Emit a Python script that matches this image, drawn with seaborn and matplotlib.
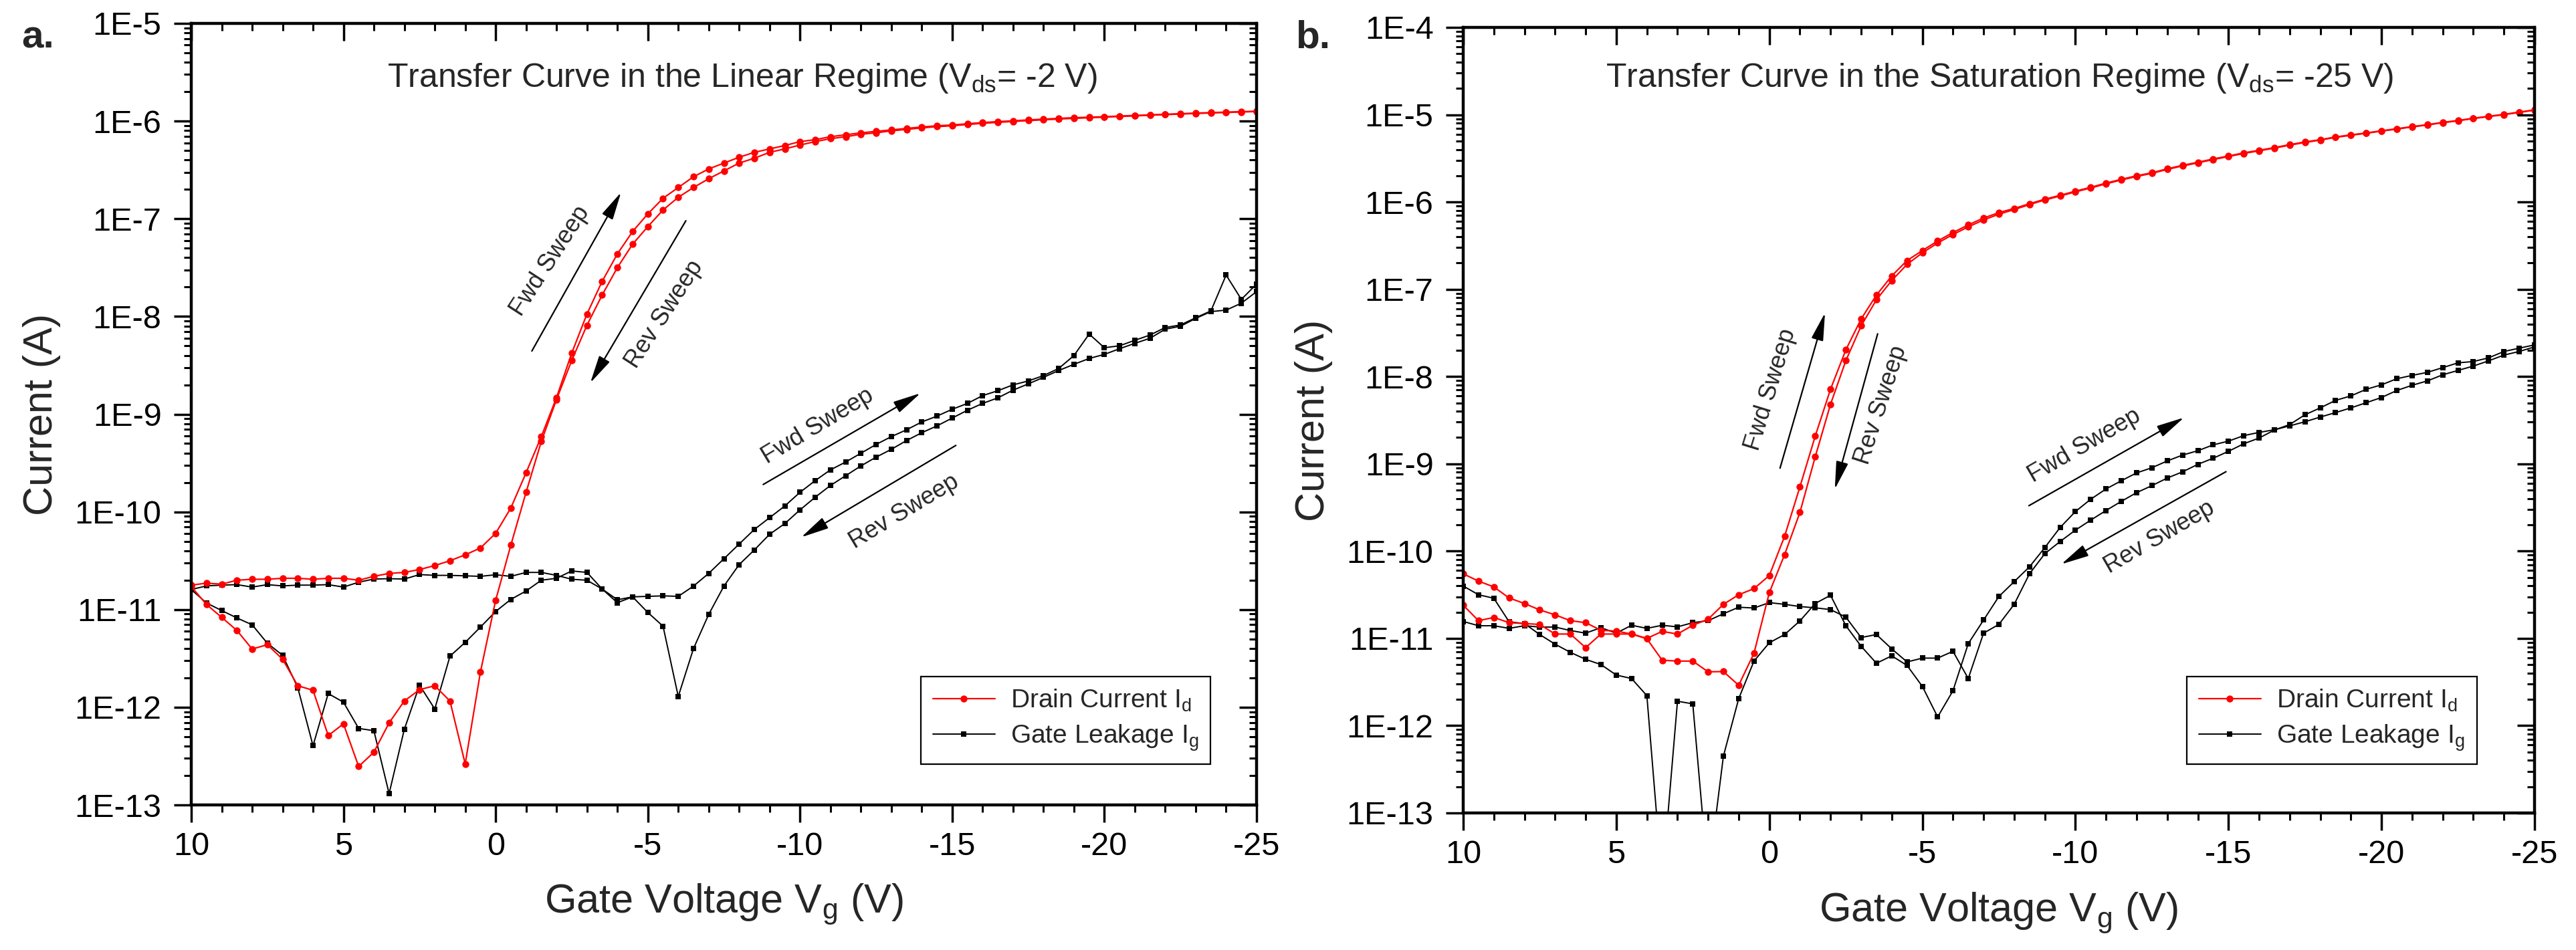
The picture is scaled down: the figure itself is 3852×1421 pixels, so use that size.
import numpy as np
import pandas as pd
import matplotlib
matplotlib.use("Agg")
import matplotlib.pyplot as plt
from matplotlib.ticker import LogLocator, MultipleLocator, FuncFormatter, NullFormatter
from matplotlib.lines import Line2D
import seaborn as sns

# gate voltage sweep points (V), same grid for every curve
vg = [10.0, 9.5, 9.0, 8.5, 8.0, 7.5, 7.0, 6.5, 6.0, 5.5,
      5.0, 4.5, 4.0, 3.5, 3.0, 2.5, 2.0, 1.5, 1.0, 0.5,
      0.0, -0.5, -1.0, -1.5, -2.0, -2.5, -3.0, -3.5, -4.0, -4.5,
      -5.0, -5.5, -6.0, -6.5, -7.0, -7.5, -8.0, -8.5, -9.0, -9.5,
      -10.0, -10.5, -11.0, -11.5, -12.0, -12.5, -13.0, -13.5, -14.0, -14.5,
      -15.0, -15.5, -16.0, -16.5, -17.0, -17.5, -18.0, -18.5, -19.0, -19.5,
      -20.0, -20.5, -21.0, -21.5, -22.0, -22.5, -23.0, -23.5, -24.0, -24.5,
      -25.0]

# log10 of current (A)
# panel a: linear regime, Vds = -2 V
log_id_fwd_a = [-10.75, -10.73, -10.74, -10.70, -10.69, -10.69, -10.68, -10.68, -10.69, -10.68,
                -10.68, -10.70, -10.66, -10.63, -10.62, -10.59, -10.55, -10.50, -10.44, -10.37,
                -10.22, -9.96, -9.60, -9.23, -8.83, -8.375, -7.975, -7.64, -7.36, -7.13,
                -6.95, -6.79, -6.68, -6.57, -6.49, -6.43, -6.37, -6.32, -6.285, -6.25,
                -6.21, -6.19, -6.16, -6.14, -6.12, -6.105, -6.09, -6.075, -6.06, -6.048,
                -6.04, -6.027, -6.015, -6.005, -5.997, -5.988, -5.98, -5.972, -5.965, -5.96,
                -5.955, -5.948, -5.942, -5.936, -5.93, -5.924, -5.918, -5.913, -5.908, -5.903,
                -5.899]
log_id_rev_a = [-10.765, -10.948, -11.08, -11.214, -11.404, -11.36, -11.508, -11.78, -11.826, -12.29,
                -12.17, -12.606, -12.46, -12.16, -11.936, -11.82, -11.78, -11.936, -12.58, -11.64,
                -10.906, -10.34, -9.80, -9.28, -8.85, -8.45, -8.09, -7.78, -7.50, -7.26,
                -7.08, -6.91, -6.78, -6.68, -6.59, -6.51, -6.43, -6.38, -6.32, -6.285,
                -6.245, -6.21, -6.18, -6.16, -6.135, -6.12, -6.10, -6.085, -6.07, -6.057,
                -6.048, -6.035, -6.023, -6.013, -6.004, -5.995, -5.987, -5.979, -5.972, -5.966,
                -5.96, -5.953, -5.947, -5.94, -5.934, -5.928, -5.922, -5.917, -5.912, -5.907,
                -5.902]
log_ig_fwd_a = [-10.795, -10.758, -10.75, -10.745, -10.77, -10.745, -10.758, -10.75, -10.75, -10.745,
                -10.77, -10.72, -10.688, -10.684, -10.688, -10.642, -10.65, -10.65, -10.655, -10.66,
                -10.644, -10.66, -10.62, -10.62, -10.65, -10.69, -10.70, -10.79, -10.93, -10.87,
                -10.865, -10.86, -10.865, -10.76, -10.63, -10.48, -10.33, -10.18, -10.06, -9.94,
                -9.80, -9.68, -9.57, -9.49, -9.40, -9.31, -9.23, -9.16, -9.08, -9.02,
                -8.95, -8.89, -8.81, -8.76, -8.70, -8.66, -8.605, -8.532, -8.40, -8.18,
                -8.32, -8.30, -8.244, -8.19, -8.113, -8.087, -8.013, -7.943, -7.576, -7.825,
                -7.668]
log_ig_rev_a = [-10.795, -10.933, -11.01, -11.086, -11.156, -11.345, -11.468, -11.80, -12.394, -11.86,
                -11.948, -12.217, -12.24, -12.884, -12.226, -11.774, -12.018, -11.477, -11.336, -11.18,
                -11.02, -10.896, -10.81, -10.70, -10.68, -10.605, -10.62, -10.79, -10.90, -10.87,
                -11.03, -11.17, -11.89, -11.40, -11.05, -10.76, -10.54, -10.39, -10.23, -10.12,
                -9.98, -9.85, -9.73, -9.63, -9.53, -9.44, -9.36, -9.27, -9.19, -9.12,
                -9.04, -8.96, -8.89, -8.833, -8.754, -8.69, -8.623, -8.553, -8.49, -8.43,
                -8.388, -8.33, -8.275, -8.223, -8.13, -8.10, -8.02, -7.95, -7.935, -7.864,
                -7.746]

# panel b: saturation regime, Vds = -25 V
log_id_fwd_b = [-10.62, -10.797, -10.76, -10.82, -10.83, -10.84, -10.95, -10.95, -11.106, -10.95,
                -10.95, -10.95, -11.0, -10.92, -10.95, -10.85, -10.78, -10.61, -10.50, -10.43,
                -10.28, -9.83, -9.264, -8.683, -8.145, -7.695, -7.34, -7.067, -6.847, -6.671,
                -6.557, -6.447, -6.35, -6.263, -6.184, -6.122, -6.074, -6.02, -5.968, -5.924,
                -5.876, -5.832, -5.784, -5.74, -5.70, -5.665, -5.62, -5.58, -5.545, -5.507,
                -5.473, -5.437, -5.408, -5.377, -5.343, -5.312, -5.286, -5.255, -5.231, -5.209,
                -5.184, -5.161, -5.136, -5.114, -5.088, -5.066, -5.04, -5.018, -4.996, -4.97,
                -4.945]
log_id_rev_b = [-10.26, -10.344, -10.41, -10.537, -10.60, -10.674, -10.73, -10.797, -10.82, -10.907,
                -10.916, -10.95, -11.004, -11.25, -11.26, -11.26, -11.383, -11.38, -11.537, -11.17,
                -10.476, -10.04, -9.557, -8.92, -8.318, -7.818, -7.42, -7.12, -6.90, -6.715,
                -6.583, -6.47, -6.373, -6.285, -6.206, -6.14, -6.087, -6.03, -5.977, -5.932,
                -5.884, -5.84, -5.792, -5.748, -5.708, -5.672, -5.627, -5.587, -5.552, -5.514,
                -5.48, -5.444, -5.414, -5.383, -5.349, -5.318, -5.291, -5.26, -5.236, -5.213,
                -5.188, -5.165, -5.14, -5.118, -5.092, -5.07, -5.044, -5.022, -5.0, -4.974,
                -4.948]
log_ig_fwd_b = [-10.40, -10.50, -10.54, -10.81, -10.83, -10.956, -11.066, -11.16, -11.24, -11.30,
                -11.42, -11.46, -11.656, -13.8, -11.72, -11.75, -13.75, -12.35, -11.69, -11.26,
                -11.05, -10.956, -10.80, -10.60, -10.506, -10.854, -11.09, -11.285, -11.2, -11.31,
                -11.55, -11.90, -11.60, -11.06, -10.79, -10.52, -10.35, -10.18, -9.96, -9.73,
                -9.547, -9.406, -9.288, -9.194, -9.104, -9.045, -8.967, -8.90, -8.85, -8.783,
                -8.74, -8.677, -8.64, -8.61, -8.565, -8.518, -8.464, -8.413, -8.359, -8.30,
                -8.24, -8.16, -8.10, -8.05, -7.98, -7.93, -7.88, -7.82, -7.754, -7.713,
                -7.66]
log_ig_rev_b = [-10.806, -10.855, -10.855, -10.885, -10.855, -10.87, -10.87, -10.91, -10.94, -10.877,
                -10.94, -10.85, -10.885, -10.85, -10.868, -10.82, -10.797, -10.718, -10.643, -10.652,
                -10.59, -10.61, -10.635, -10.65, -10.67, -10.756, -10.99, -10.956, -11.12, -11.27,
                -11.226, -11.226, -11.148, -11.46, -10.94, -10.84, -10.61, -10.26, -10.03, -9.89,
                -9.76, -9.645, -9.535, -9.43, -9.33, -9.25, -9.163, -9.092, -9.006, -8.936,
                -8.857, -8.77, -8.705, -8.613, -8.55, -8.438, -8.359, -8.273, -8.222, -8.146,
                -8.095, -8.025, -7.987, -7.952, -7.898, -7.843, -7.828, -7.786, -7.713, -7.675,
                -7.637]

legend_labels = ["Drain Current I$_{d}$", "Gate Leakage I$_{g}$"]
x_ticks = [10, 5, 0, -5, -10, -15, -20, -25]

sns.set_theme(style="ticks", rc={
    "axes.unicode_minus": False,
    "mathtext.default": "regular",
    "axes.linewidth": 3,
    "axes.edgecolor": "black",
    "xtick.color": "black",
    "ytick.color": "black",
    "xtick.major.size": 19, "xtick.major.width": 2.5,
    "xtick.minor.size": 8, "xtick.minor.width": 2.2,
    "ytick.major.size": 19, "ytick.major.width": 2.5,
    "ytick.minor.size": 8, "ytick.minor.width": 2.2,
    "xtick.major.pad": 10, "ytick.major.pad": 13,
    "xtick.labelsize": 35, "ytick.labelsize": 35,
})
plt.rcParams["font.family"] = ["Liberation Sans", "DejaVu Sans"]

RED = "#ff0000"
BLACK = "#000000"


def decade_label(v, pos):
    return "1E%d" % int(round(np.log10(v)))


def build_frame(id_fwd, id_rev, ig_fwd, ig_rev):
    parts = []
    for sig, sweep, vals in [("ig", "fwd", ig_fwd), ("ig", "rev", ig_rev),
                             ("id", "fwd", id_fwd), ("id", "rev", id_rev)]:
        parts.append(pd.DataFrame({"vg": vg, "current": 10.0 ** np.array(vals),
                                   "signal": sig, "sweep": sweep}))
    return pd.concat(parts, ignore_index=True)


def set_log_y(ax, ylim):
    ax.set_yscale("log")
    ax.set_ylim(ylim)
    ax.yaxis.set_major_locator(LogLocator(base=10, numticks=30))
    ax.yaxis.set_minor_locator(LogLocator(base=10, subs=np.arange(2, 10), numticks=30))
    ax.yaxis.set_minor_formatter(NullFormatter())


def set_x(ax):
    ax.set_xlim(10, -25)
    ax.xaxis.set_major_locator(MultipleLocator(5))
    ax.xaxis.set_minor_locator(MultipleLocator(1))


def draw_panel(ax, df, ylim, title, title_xy, arrows, legend_xy, ylabel_x):
    set_log_y(ax, ylim)
    set_x(ax)
    for (sig, sweep), grp in df.groupby(["signal", "sweep"], sort=False):
        if sig == "ig":
            sns.lineplot(data=grp, x="vg", y="current", ax=ax, color=BLACK, lw=1.4,
                         marker="s", markersize=6, markeredgewidth=0,
                         estimator=None, sort=False, legend=False, zorder=2)
        else:
            sns.lineplot(data=grp, x="vg", y="current", ax=ax, color=RED, lw=1.6,
                         marker="o", markersize=7.5, markeredgewidth=0,
                         estimator=None, sort=False, legend=False, zorder=3)
    set_log_y(ax, ylim)
    set_x(ax)
    ax.yaxis.set_major_formatter(FuncFormatter(decade_label))
    ax.set_xticks(x_ticks)
    ax.set_xticklabels([str(t) for t in x_ticks])

    ax.set_xlabel("Gate Voltage V$_{g}$ (V)", fontsize=44, va="baseline")
    ax.xaxis.set_label_coords(0.5, -0.138)
    ax.set_ylabel("Current (A)", fontsize=44, va="center")
    ax.yaxis.set_label_coords(ylabel_x, 0.5)

    ax.text(title_xy[0], title_xy[1], title, transform=ax.transAxes,
            ha="center", va="baseline", fontsize=36)

    for (x0, y0), (x1, y1), txt_xy, rot in arrows:
        ax.annotate("", xy=(x1, 10.0 ** y1), xytext=(x0, 10.0 ** y0),
                    arrowprops=dict(arrowstyle="-|>,head_length=1.6,head_width=0.35",
                                    mutation_scale=16, lw=1.6, color="black",
                                    shrinkA=0, shrinkB=0))
        ax.text(txt_xy[0], 10.0 ** txt_xy[1], txt_xy[2], rotation=rot,
                rotation_mode="anchor", ha="center", va="center", fontsize=26)

    handles = [Line2D([], [], color=RED, lw=1.6, marker="o", markersize=7.5, markeredgewidth=0),
               Line2D([], [], color=BLACK, lw=1.4, marker="s", markersize=6, markeredgewidth=0)]
    leg = ax.legend(handles, legend_labels, loc="lower left", bbox_to_anchor=legend_xy,
                    borderaxespad=0, frameon=True, fancybox=False, framealpha=1,
                    edgecolor="black", fontsize=28, handlelength=2.4, handletextpad=0.6,
                    borderpad=0.45, labelspacing=0.35)
    leg.get_frame().set_linewidth(1.6)

    # mirrored ticks on top and right, pointing inwards
    axt = ax.twiny()
    set_x(axt)
    axt.tick_params(axis="x", which="both", direction="in", labeltop=False)
    axr = ax.twinx()
    set_log_y(axr, ylim)
    axr.tick_params(axis="y", which="both", direction="in", labelright=False)
    for a in (ax, axt, axr):
        for sp in a.spines.values():
            sp.set_linewidth(3)
            sp.set_color("black")


fig = plt.figure(figsize=(38.52, 14.21), dpi=100)
ax_a = fig.add_axes([286 / 3852, 1 - 1204 / 1421, 1593 / 3852, 1169 / 1421])
ax_b = fig.add_axes([2188 / 3852, 1 - 1216 / 1421, 1602 / 3852, 1175 / 1421])

df_a = build_frame(log_id_fwd_a, log_id_rev_a, log_ig_fwd_a, log_ig_rev_a)
df_b = build_frame(log_id_fwd_b, log_id_rev_b, log_ig_fwd_b, log_ig_rev_b)

arrows_a = [
    ((-1.19, -8.354), (-4.12, -6.73), (-1.80, -7.43, "Fwd Sweep"), 57),
    ((-6.25, -7.02), (-3.11, -8.68), (-5.54, -7.98, "Rev Sweep"), 57),
    ((-8.79, -9.72), (-13.96, -8.785), (-10.57, -9.12, "Fwd Sweep"), 31),
    ((-15.12, -9.32), (-10.04, -10.26), (-13.42, -10.0, "Rev Sweep"), 31),
]
arrows_b = [
    ((-0.35, -9.05), (-1.82, -7.27), (-0.04, -8.15, "Fwd Sweep"), 73),
    ((-3.54, -7.51), (-2.14, -9.29), (-3.66, -8.33, "Rev Sweep"), 72),
    ((-8.48, -9.48), (-13.55, -8.47), (-10.30, -8.79, "Fwd Sweep"), 30),
    ((-14.92, -9.09), (-9.54, -10.15), (-12.74, -9.84, "Rev Sweep"), 30),
]

draw_panel(ax_a, df_a, (1e-13, 1e-5),
           "Transfer Curve in the Linear Regime (V$_{ds}$= -2 V)", (0.517, 0.919),
           arrows_a, (0.685, 0.052), -0.1406)
draw_panel(ax_b, df_b, (1e-13, 1e-4),
           "Transfer Curve in the Saturation Regime (V$_{ds}$= -25 V)", (0.501, 0.924),
           arrows_b, (0.6756, 0.062), -0.1397)

fig.text(32 / 3852, 1 - 72 / 1421, "a.", fontsize=42, fontweight="bold", va="baseline")
fig.text(1937 / 3852, 1 - 72 / 1421, "b.", fontsize=42, fontweight="bold", va="baseline")

fig.savefig("out.png", dpi=100)
